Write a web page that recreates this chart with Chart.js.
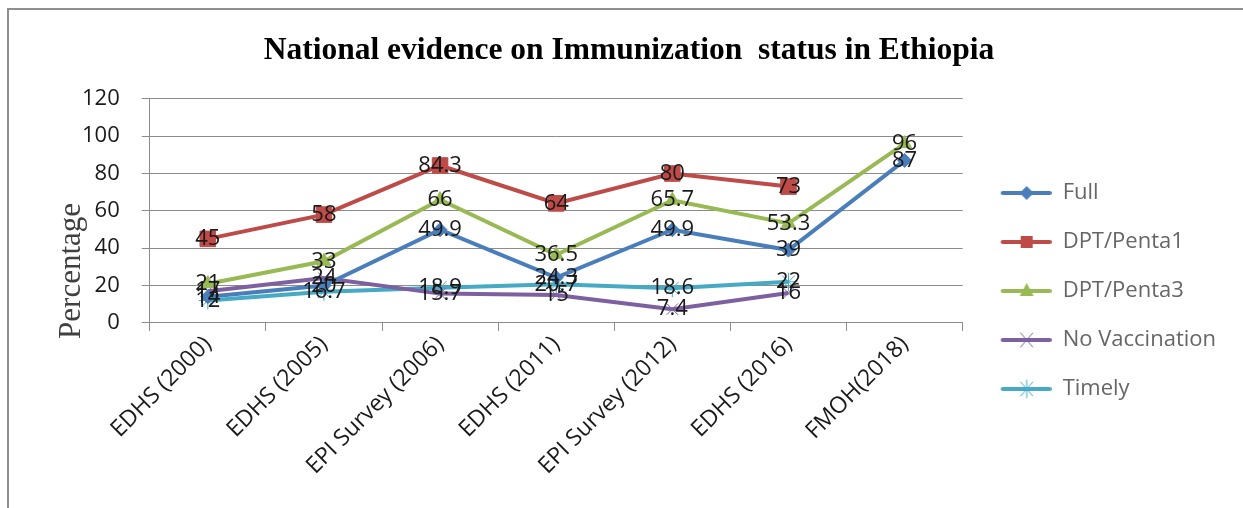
<!DOCTYPE html>
<html>
<head>
<meta charset="utf-8">
<title>National evidence on Immunization status in Ethiopia</title>
<script src="https://cdn.jsdelivr.net/npm/chart.js@4.4.1/dist/chart.umd.min.js"></script>
<style>
  html, body { margin: 0; padding: 0; background: #fff; }
  #wrap { position: relative; width: 1243px; height: 508px; overflow: hidden; }
  #frame { position: absolute; left: 7px; top: 8px; right: -4px; bottom: -4px;
           border-top: 2px solid #8f8f8f; border-left: 2px solid #8f8f8f; pointer-events: none; }
</style>
</head>
<body>
<div id="wrap">
  <canvas id="chart-immunization" width="1243" height="508"></canvas>
  <div id="frame"></div>
</div>
<script>
// survey rounds
var categories = ["EDHS (2000)", "EDHS (2005)", "EPI Survey (2006)", "EDHS (2011)", "EPI Survey (2012)", "EDHS (2016)", "FMOH(2018)"];

// percentages per series (null = not reported)
var full          = [14, 20, 49.9, 24.3, 49.9, 39, 87];
var dptPenta1     = [45, 58, 84.3, 64, 80, 73, null];
var dptPenta3     = [21, 33, 66, 36.5, 65.7, 53.3, 96];
var noVaccination = [17, 24, 15.7, 15, 7.4, 16, null];
var timely        = [12, 16.7, 18.9, 20.7, 18.6, 22, null];

var yTicks = [0, 20, 40, 60, 80, 100, 120];

var colors = {
    full: '#4A7EBB',
    penta1: '#BE4B48',
    penta3: '#98B954',
    noVac: '#7D60A0',
    timely: '#46AAC5'
};

var sans = '"Open Sans", "DejaVu Sans", sans-serif';
var tickFont = { family: sans, size: 22 };

// small line + marker picture for the legend
function legendSample(color, style) {
    var c = document.createElement('canvas');
    c.width = 62; c.height = 20;
    var g = c.getContext('2d');
    g.strokeStyle = color;
    g.fillStyle = color;
    g.lineWidth = 4;
    g.lineCap = 'round';
    g.beginPath(); g.moveTo(13, 10); g.lineTo(60, 10); g.stroke();
    var x = 37, y = 10;
    g.lineWidth = 1;
    g.beginPath();
    if (style === 'rectRot') {
        g.moveTo(x, y - 7); g.lineTo(x + 7, y); g.lineTo(x, y + 7); g.lineTo(x - 7, y); g.closePath(); g.fill();
    } else if (style === 'rect') {
        g.rect(x - 6, y - 6, 12, 12); g.fill();
    } else if (style === 'triangle') {
        g.moveTo(x, y - 8); g.lineTo(x + 7, y + 5); g.lineTo(x - 7, y + 5); g.closePath(); g.fill();
    } else if (style === 'crossRot') {
        g.moveTo(x - 6, y - 7); g.lineTo(x + 6, y + 7); g.moveTo(x + 6, y - 7); g.lineTo(x - 6, y + 7); g.stroke();
    } else if (style === 'star') {
        g.moveTo(x - 6, y - 7); g.lineTo(x + 6, y + 7); g.moveTo(x + 6, y - 7); g.lineTo(x - 6, y + 7);
        g.moveTo(x, y - 9); g.lineTo(x, y + 9); g.stroke();
    }
    return c;
}

function series(label, data, color, style, radius, thin) {
    return {
        label: label,
        data: data,
        borderColor: color,
        backgroundColor: color,
        borderWidth: 4,
        tension: 0,
        pointStyle: style,
        pointRadius: radius,
        pointHoverRadius: radius,
        pointBackgroundColor: thin ? 'rgba(0,0,0,0)' : color,
        pointBorderColor: color,
        pointBorderWidth: 1,
        legendStyle: legendSample(color, style),
        spanGaps: false
    };
}

// value labels centred on each point
var valueLabels = {
    id: 'valueLabels',
    afterDatasetsDraw: function (chart) {
        var ctx = chart.ctx;
        ctx.save();
        ctx.font = '22px ' + sans;
        ctx.fillStyle = '#1a1a1a';
        ctx.textAlign = 'center';
        ctx.textBaseline = 'middle';
        chart.data.datasets.forEach(function (ds, i) {
            var meta = chart.getDatasetMeta(i);
            meta.data.forEach(function (pt, j) {
                var v = ds.data[j];
                if (v === null || v === undefined) return;
                ctx.fillText(String(v), pt.x, pt.y);
            });
        });
        ctx.restore();
    }
};

// serif axis title, sitting low like the original
var yTitle = {
    id: 'yTitle',
    afterDraw: function (chart) {
        var a = chart.chartArea, ctx = chart.ctx;
        ctx.save();
        ctx.translate(a.left - 78, a.bottom - 52);
        ctx.rotate(-Math.PI / 2);
        ctx.font = '31px "Liberation Serif", "DejaVu Serif", serif';
        ctx.fillStyle = '#404040';
        ctx.textAlign = 'center';
        ctx.textBaseline = 'middle';
        ctx.fillText('Percentage', 0, 0);
        ctx.restore();
    }
};

var ctxL = document.getElementById('chart-immunization').getContext('2d');
var immunizationChart = new Chart(ctxL, {
    type: 'line',
    data: {
        labels: categories,
        datasets: [
            series('Full', full, colors.full, 'rectRot', 7, false),
            series('DPT/Penta1', dptPenta1, colors.penta1, 'rect', 11, false),
            series('DPT/Penta3', dptPenta3, colors.penta3, 'triangle', 8, false),
            series('No Vaccination', noVaccination, colors.noVac, 'crossRot', 8, true),
            series('Timely', timely, colors.timely, 'star', 9, true)
        ]
    },
    options: {
        responsive: false,
        animation: false,
        layout: { padding: { left: 32, right: 17, top: 0, bottom: 28 } },
        plugins: {
            title: {
                display: true,
                text: 'National evidence on Immunization  status in Ethiopia',
                color: '#000',
                font: { family: '"Liberation Serif", "DejaVu Serif", serif', size: 31.5, weight: 'bold' },
                padding: { top: 32, bottom: 29 }
            },
            legend: {
                position: 'right',
                title: { display: true, text: ' ', font: { size: 20 }, padding: { top: 0, bottom: 78 } },
                labels: {
                    usePointStyle: true,
                    pointStyleWidth: 62,
                    boxHeight: 22,
                    padding: 27,
                    color: '#1a1a1a',
                    font: tickFont,
                    generateLabels: function (chart) {
                        return chart.data.datasets.map(function (ds, i) {
                            return {
                                text: ds.label,
                                pointStyle: ds.legendStyle,
                                fillStyle: ds.borderColor,
                                strokeStyle: ds.borderColor,
                                lineWidth: 0,
                                hidden: false,
                                datasetIndex: i,
                                rotation: 0
                            };
                        });
                    }
                }
            },
            tooltip: { enabled: false }
        },
        scales: {
            x: {
                offset: true,
                grid: { offset: true, drawOnChartArea: false, tickLength: 8, color: '#8c8c8c' },
                border: { color: '#8c8c8c' },
                ticks: { minRotation: 45, maxRotation: 45, padding: 0, color: '#1a1a1a', font: { family: sans, size: 23 } }
            },
            y: {
                min: 0,
                max: 120,
                afterBuildTicks: function (axis) {
                    axis.ticks = yTicks.map(function (v) { return { value: v }; });
                },
                afterFit: function (axis) {
                    axis.width += 28;
                },
                grid: { color: '#8c8c8c', tickLength: 8 },
                border: { color: '#8c8c8c' },
                ticks: { padding: 22, color: '#1a1a1a', font: tickFont }
            }
        }
    },
    plugins: [valueLabels, yTitle]
});
</script>
</body>
</html>
